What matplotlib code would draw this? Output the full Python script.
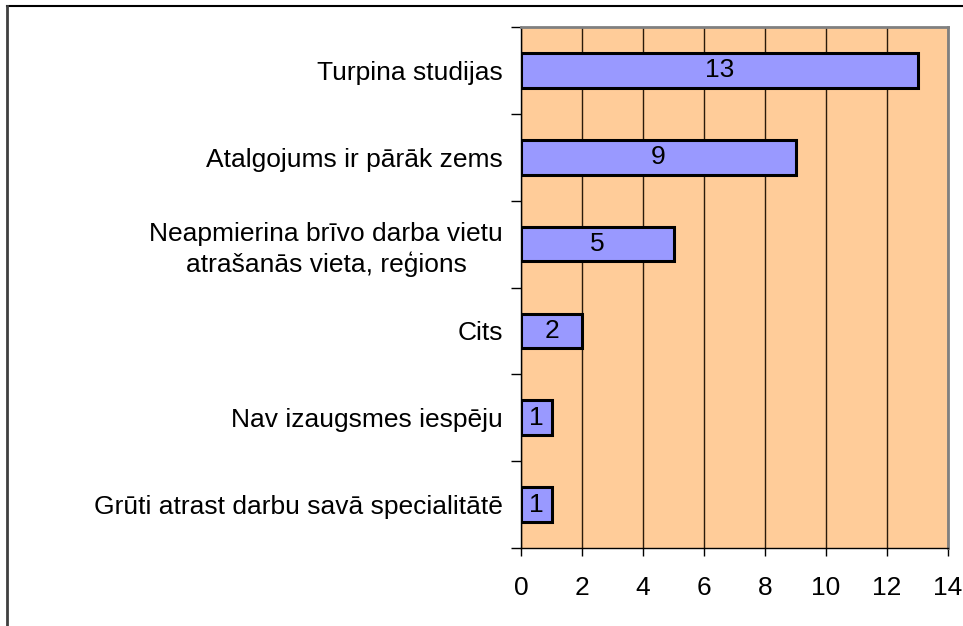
import matplotlib.pyplot as plt
from matplotlib.lines import Line2D
import numpy as np

plt.rcParams['font.family'] = ['Liberation Sans', 'DejaVu Sans']

categories = [
    "Turpina studijas",
    "Atalgojums ir pārāk zems",
    "Neapmierina brīvo darba vietu\natrašanās vieta, reģions",
    "Cits",
    "Nav izaugsmes iespēju",
    "Grūti atrast darbu savā specialitātē",
]
values = [13, 9, 5, 2, 1, 1]
xticks = [0, 2, 4, 6, 8, 10, 12, 14]

fs = 19

fig = plt.figure(figsize=(9.63, 6.26), dpi=100)
ax = fig.add_axes([521 / 963, 1 - 548 / 626, 427 / 963, 521 / 626])
ax.set_facecolor('#FFCC99')

y = np.arange(len(categories))
bars = ax.barh(y, values, height=0.4, color='#9999FF', edgecolor='black',
               linewidth=2.2, zorder=3)
for b, v in zip(bars, values):
    ax.text(b.get_x() + b.get_width() / 2, b.get_y() + b.get_height() / 2,
            str(v), ha='center', va='center', fontsize=fs, zorder=4)

ax.set_xlim(0, 14)
ax.set_ylim(len(categories) - 0.5, -0.5)
ax.set_xticks(xticks)
ax.set_xticklabels([str(t) for t in xticks], fontsize=fs)
ax.xaxis.grid(True, color='#2a1a0a', linewidth=1, zorder=1)
ax.set_axisbelow(True)

ax.set_yticks(y)
ax.set_yticklabels(categories, fontsize=fs, multialignment='center',
                   linespacing=1.3)
ax.set_yticks(np.arange(-0.5, len(categories), 1), minor=True)
ax.tick_params(axis='y', which='major', length=0, pad=13)
ax.tick_params(axis='y', which='minor', length=7, width=1, color='black')
ax.tick_params(axis='x', length=6, width=1, pad=14, direction='out')

for s in ['top', 'right']:
    ax.spines[s].set_color('#808080')
    ax.spines[s].set_linewidth(2)
for s in ['left', 'bottom']:
    ax.spines[s].set_color('black')
    ax.spines[s].set_linewidth(1)

# outer frame (only top and left visible)
fig.add_artist(Line2D([7 / 963, 1], [1 - 6 / 626, 1 - 6 / 626],
                      color='black', linewidth=1.5, transform=fig.transFigure))
fig.add_artist(Line2D([7 / 963, 7 / 963], [0, 1 - 6 / 626],
                      color='#404040', linewidth=2, transform=fig.transFigure))

fig.savefig('out.png', dpi=100)
